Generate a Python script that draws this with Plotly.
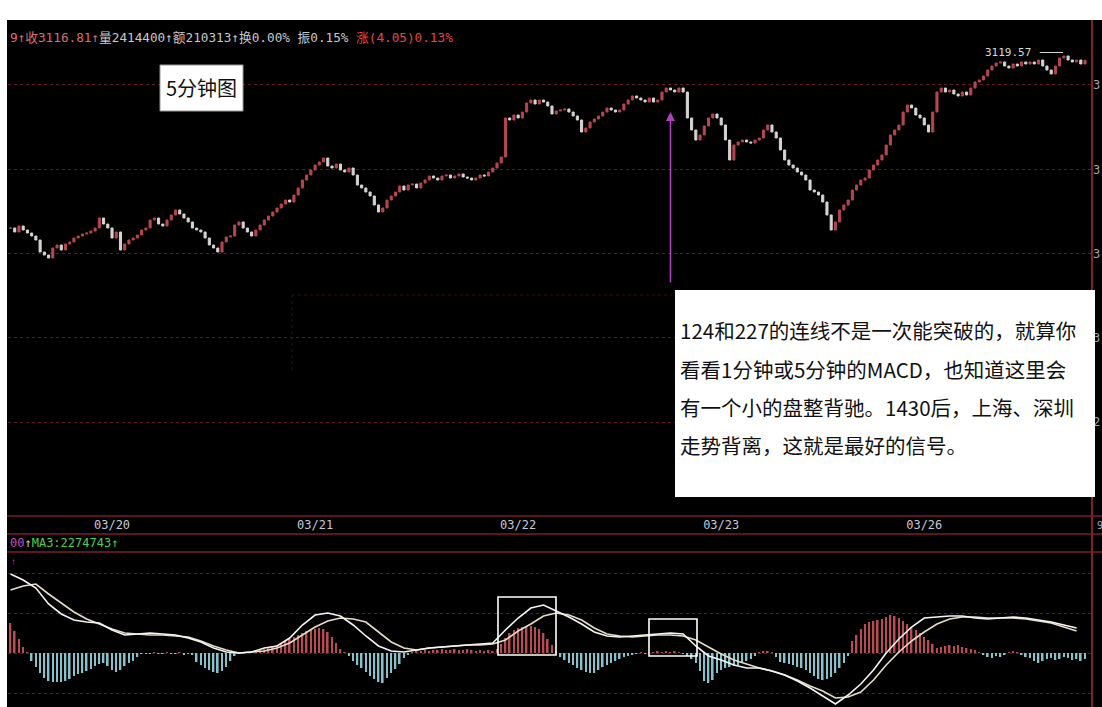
import plotly.graph_objects as go

# 5-minute closes, 03/20 .. 03/27 (48 bars per day)
closes = [
    3057.11, 3055.69, 3057.82, 3056.40, 3055.33, 3054.26, 3052.84, 3048.57, 3047.50, 3046.43,
    3049.99, 3051.06, 3049.28, 3051.42, 3052.13, 3053.55, 3054.26, 3054.98, 3055.33, 3056.04,
    3057.11, 3060.67, 3058.53, 3057.11, 3053.55, 3055.69, 3049.28, 3051.42, 3052.84, 3053.55,
    3054.62, 3056.40, 3057.11, 3059.96, 3060.67, 3058.53, 3057.82, 3059.96, 3061.74, 3063.52,
    3062.09, 3060.67, 3059.25, 3057.11, 3056.40, 3055.69, 3053.55, 3051.06, 3049.99, 3048.57,
    3052.13, 3053.91, 3054.26, 3058.18, 3059.25, 3057.11, 3055.69, 3054.26, 3056.40, 3058.18,
    3059.96, 3061.38, 3062.80, 3064.23, 3065.65, 3067.07, 3066.36, 3068.85, 3071.35, 3074.19,
    3075.97, 3077.75, 3079.53, 3080.60, 3082.02, 3079.17, 3078.46, 3079.89, 3077.75, 3077.04,
    3078.46, 3075.97, 3072.41, 3071.35, 3069.92, 3068.50, 3065.30, 3062.80, 3064.23, 3067.07,
    3068.50, 3069.92, 3072.06, 3070.63, 3072.41, 3072.77, 3071.35, 3073.12, 3074.19, 3075.62,
    3074.90, 3074.19, 3075.62, 3075.97, 3074.90, 3075.62, 3076.33, 3075.26, 3074.90, 3074.19,
    3074.90, 3075.97, 3075.62, 3077.04, 3078.46, 3080.24, 3082.38, 3096.26, 3095.54, 3097.32,
    3096.26, 3098.39, 3101.59, 3102.66, 3101.24, 3102.66, 3101.95, 3100.53, 3097.68, 3098.75,
    3099.10, 3099.46, 3098.39, 3096.97, 3095.54, 3091.27, 3092.70, 3094.83, 3095.90, 3096.97,
    3098.39, 3099.81, 3099.10, 3098.39, 3099.10, 3101.24, 3102.66, 3104.09, 3103.37, 3102.66,
    3101.95, 3103.37, 3101.95, 3102.66, 3105.51, 3106.93, 3106.22, 3105.51, 3106.93, 3105.51,
    3096.26, 3091.99, 3088.43, 3090.21, 3093.41, 3096.26, 3097.68, 3096.26, 3093.77, 3088.43,
    3081.31, 3086.65, 3087.72, 3088.43, 3087.72, 3087.36, 3088.43, 3089.14, 3091.99, 3093.77,
    3091.27, 3089.14, 3084.87, 3081.31, 3079.53, 3078.46, 3077.04, 3075.97, 3074.19, 3070.63,
    3069.92, 3068.85, 3066.36, 3061.74, 3056.40, 3059.25, 3063.52, 3065.30, 3067.07, 3070.63,
    3072.41, 3074.19, 3074.90, 3077.75, 3079.53, 3081.31, 3083.09, 3086.65, 3090.21, 3091.99,
    3093.77, 3098.39, 3100.88, 3099.81, 3097.32, 3096.26, 3093.77, 3091.27, 3098.39, 3105.51,
    3106.93, 3105.51, 3106.22, 3104.80, 3104.09, 3105.51, 3104.44, 3106.93, 3109.07, 3109.78,
    3111.20, 3113.34, 3114.76, 3115.83, 3116.19, 3114.76, 3114.05, 3115.47, 3114.76, 3116.19,
    3115.47, 3116.19, 3115.47, 3116.90, 3114.76, 3113.34, 3111.91, 3114.76, 3117.61, 3118.32,
    3116.90, 3116.19, 3116.90, 3115.47, 3116.81,
]
peak_high = 3119.57

day_ticks = [24, 72, 120, 168, 216]
day_labels = ["03/20", "03/21", "03/22", "03/23", "03/26"]

price_grid = [2988, 3018, 3048, 3078, 3108]
price_grid_text = ["2", "3", "3", "3", "3"]

# MACD: DIF / DEA read every 3 bars, histogram per bar
dif = [
    7.9, 7.3, 6.5, 4.9, 3.9, 3.3, 3.1, 3.0, 2.3, 1.8,
    1.9, 2.0, 1.9, 1.8, 1.5, 1.1, 0.5, 0.1, 0.0, 0.1,
    0.5, 0.7, 1.5, 2.8, 3.8, 4.0, 3.7, 2.8, 1.7, 0.7,
    0.2, 0.1, 0.3, 0.5, 0.6, 0.7, 0.8, 0.9, 1.0, 2.3,
    3.5, 4.5, 4.8, 4.2, 3.6, 2.9, 2.1, 1.7, 1.6, 1.7,
    1.8, 1.9, 2.0, 1.9, 0.7, -0.3, -0.7, -1.2, -1.5, -1.5,
    -1.8, -2.2, -2.8, -3.5, -4.3, -5.1, -4.2, -3.1, -1.7, 0.0,
    1.4, 2.6, 3.5, 3.6, 3.7, 3.7, 3.5, 3.4, 3.5, 3.6,
    3.5, 3.3, 3.1, 2.8, 2.5,
]
dea = [
    6.3, 6.7, 6.9, 5.9, 5.0, 4.1, 3.4, 2.9, 2.4, 2.0,
    1.9, 1.8, 1.8, 1.7, 1.6, 1.2, 0.7, 0.3, 0.0, 0.1,
    0.2, 0.5, 1.0, 1.8, 2.6, 3.2, 3.5, 3.4, 3.1, 2.1,
    1.1, 0.5, 0.3, 0.5, 0.6, 0.7, 0.8, 0.8, 0.9, 1.3,
    2.2, 2.9, 3.7, 4.0, 3.8, 3.3, 2.5, 1.9, 1.7, 1.6,
    1.7, 1.8, 1.8, 1.7, 1.3, 0.6, -0.1, -0.7, -1.1, -1.5,
    -1.8, -2.2, -2.7, -3.3, -3.8, -4.5, -4.4, -3.9, -2.7, -1.2,
    0.1, 1.2, 2.1, 2.9, 3.4, 3.6, 3.6, 3.5, 3.5, 3.5,
    3.4, 3.2, 3.0, 2.6, 2.2,
]
macd_hist = [
    3.0, 2.2, 1.4, 0.6, 0.1, -0.8, -1.4, -2.0, -2.5, -2.8,
    -2.9, -2.9, -2.9, -2.8, -2.6, -2.3, -2.1, -2.0, -1.8, -1.6,
    -1.3, -1.1, -1.0, -1.3, -1.7, -1.9, -1.7, -1.3, -1.0, -0.8,
    -0.4, -0.1, -0.1, -0.1, 0.1, -0.1, -0.1, 0.1, -0.1, -0.1,
    0.1, -0.2, -0.1, -0.2, -0.9, -1.2, -1.5, -1.7, -1.9, -2.0,
    -1.8, -1.4, -0.8, -0.3, -0.1, 0.1, 0.1, 0.2, 0.2, 0.3,
    0.4, 0.6, 0.7, 0.8, 1.0, 1.2, 1.4, 1.6, 1.8, 2.0,
    2.2, 2.3, 2.4, 2.5, 2.4, 2.1, 1.6, 1.0, 0.4, 0.1,
    -0.3, -0.8, -1.2, -1.5, -1.9, -2.3, -2.6, -2.9, -3.0, -2.5,
    -2.0, -1.6, -1.1, -0.5, -0.2, 0.1, 0.2, 0.2, 0.3, 0.2,
    0.3, 0.3, 0.4, 0.3, 0.3, 0.4, 0.3, 0.3, 0.4, 0.3,
    0.2, 0.3, 0.2, 0.3, 0.2, 0.4, 0.9, 1.5, 2.0, 2.3,
    2.5, 2.6, 2.7, 2.7, 2.6, 2.4, 2.0, 1.4, 0.8, 0.2,
    -0.4, -0.7, -1.0, -1.2, -1.5, -1.7, -1.9, -2.0, -2.0, -1.7,
    -1.4, -1.2, -1.0, -0.8, -0.6, -0.4, -0.3, -0.2, -0.1, 0.1,
    -0.1, 0.1, 0.1, 0.2, 0.1, 0.2, 0.1, 0.2, 0.1, -0.1,
    -0.3, -0.6, -1.0, -1.8, -2.8, -3.0, -2.7, -2.0, -1.7, -1.5,
    -1.4, -1.3, -1.2, -1.0, -0.8, -0.6, -0.3, 0.1, 0.2, 0.2,
    0.1, -0.4, -0.9, -1.0, -1.1, -1.2, -1.4, -1.5, -1.7, -2.0,
    -2.3, -2.6, -2.7, -2.6, -2.4, -2.0, -1.5, -1.0, -0.3, 1.2,
    1.8, 2.4, 2.9, 3.1, 3.2, 3.3, 3.4, 3.6, 3.8, 3.7,
    3.5, 3.2, 2.9, 2.6, 2.3, 2.0, 1.6, 1.3, 0.9, 0.5,
    0.6, 0.7, 0.8, 0.7, 0.8, 0.6, 0.5, 0.4, 0.3, 0.1,
    -0.2, -0.4, -0.5, -0.3, -0.4, -0.2, 0.1, 0.2, 0.1, -0.2,
    -0.4, -0.5, -0.8, -1.0, -0.8, -0.6, -0.5, -0.7, -0.6, -0.4,
    -0.5, -0.7, -0.6, -0.8, -0.6,
]
macd_grid = [-4, 0, 4, 8]

header = ('<span style="color:#d87070">9↑收3116.81↑</span>'
          '<span style="color:#c8c8c8">量2414400↑额210313↑换0.00% 振0.15% </span>'
          '<span style="color:#e04848">涨(4.05)0.13%</span>')
ma_label = ('<span style="color:#c050c0">00</span><span style="color:#c8c8c8">↑</span>'
            '<span style="color:#4cd04c">MA3:2274743↑</span>')
note_lines = [
    "124和227的连线不是一次能突破的，就算你",
    "看看1分钟或5分钟的MACD，也知道这里会",
    "有一个小的盘整背驰。1430后，上海、深圳",
    "走势背离，这就是最好的信号。",
]
note_rows = [330, 369, 407, 445]

W, H = 1102, 707
L, R = 8, 10


def xp(px):
    return (px - L) / (W - L - R)


def yp(py):
    return 1 - py / H


idx = list(range(len(closes)))
opens = [closes[0]] + closes[:-1]
highs = [max(o, c) for o, c in zip(opens, closes)]
lows = [min(o, c) for o, c in zip(opens, closes)]
macd_idx = list(range(0, 3 * len(dif), 3))
hist_colors = ["#bb4a52" if v > 0 else "#86c2cc" for v in macd_hist]

fig = go.Figure()
fig.add_trace(go.Candlestick(
    x=idx, open=opens, high=highs, low=lows, close=closes,
    increasing=dict(line=dict(color="#b8464e", width=1), fillcolor="#b8464e"),
    decreasing=dict(line=dict(color="#d4d4d4", width=1), fillcolor="#d4d4d4"),
    whiskerwidth=0, hoverinfo="skip", showlegend=False, xaxis="x", yaxis="y"))
fig.add_trace(go.Bar(x=idx, y=macd_hist, marker=dict(color=hist_colors, line=dict(width=0)),
                     width=0.38, hoverinfo="skip", showlegend=False, xaxis="x2", yaxis="y2"))
fig.add_trace(go.Scatter(x=macd_idx, y=dea, mode="lines", line=dict(color="#e4dcc4", width=1.6),
                         hoverinfo="skip", showlegend=False, xaxis="x2", yaxis="y2"))
fig.add_trace(go.Scatter(x=macd_idx, y=dif, mode="lines", line=dict(color="#f4f4f4", width=1.6),
                         hoverinfo="skip", showlegend=False, xaxis="x2", yaxis="y2"))

xrange = [-0.59, 255.65]
grid_col = "#5e1c22"
fig.update_layout(
    width=W, height=H, margin=dict(l=L, r=R, t=0, b=0),
    paper_bgcolor="black", plot_bgcolor="black", showlegend=False,
    xaxis=dict(domain=[0, 1], range=xrange, anchor="y", tickvals=day_ticks, ticktext=day_labels,
               ticks="", showgrid=False, zeroline=False, showline=False,
               rangeslider=dict(visible=False),
               tickfont=dict(family="DejaVu Sans Mono", size=12, color="#c4c8d8")),
    yaxis=dict(domain=[yp(516), yp(25)], range=[2954.62, 3129.35], side="right",
               tickvals=price_grid, ticktext=price_grid_text, ticks="",
               showgrid=True, gridcolor=grid_col, griddash="dot", gridwidth=1, zeroline=False,
               tickfont=dict(family="DejaVu Sans Mono", size=12, color="#a8a8a8")),
    xaxis2=dict(domain=[0, 1], range=xrange, anchor="y2", showticklabels=False,
                showgrid=False, zeroline=False, ticks=""),
    yaxis2=dict(domain=[0, yp(553)], range=[-5.4, 10.0], side="right", tickvals=macd_grid,
                showticklabels=False, ticks="", showgrid=True, gridcolor=grid_col,
                griddash="dot", gridwidth=1, zeroline=False),
)

red = "#7c1e2a"
shapes = [
    # white border strips of the screenshot
    dict(type="rect", xref="paper", yref="paper", x0=xp(0), x1=xp(W), y0=yp(20), y1=yp(0),
         fillcolor="white", line=dict(width=0), layer="above"),
    dict(type="rect", xref="paper", yref="paper", x0=xp(0), x1=xp(7), y0=yp(H), y1=yp(0),
         fillcolor="white", line=dict(width=0), layer="above"),
    # panel separators
    dict(type="line", xref="paper", yref="paper", x0=xp(7), x1=xp(W), y0=yp(516), y1=yp(516),
         line=dict(color=red, width=1.5)),
    dict(type="line", xref="paper", yref="paper", x0=xp(7), x1=xp(W), y0=yp(534), y1=yp(534),
         line=dict(color=red, width=1.5)),
    dict(type="line", xref="paper", yref="paper", x0=xp(7), x1=xp(W), y0=yp(552), y1=yp(552),
         line=dict(color=red, width=1.5)),
    dict(type="line", xref="paper", yref="paper", x0=1, x1=1, y0=yp(H), y1=yp(20),
         line=dict(color="#84202a", width=2)),
    # faint leftover dotted lines
    dict(type="line", xref="paper", yref="paper", x0=xp(292), x1=xp(672), y0=yp(295), y1=yp(295),
         line=dict(color="#2e1014", width=1, dash="dot")),
    dict(type="line", xref="paper", yref="paper", x0=xp(292), x1=xp(292), y0=yp(370), y1=yp(295),
         line=dict(color="#2e1014", width=1, dash="dot")),
    # peak marker
    dict(type="line", xref="x", yref="y", x0=243.3, x1=248.8, y0=peak_high, y1=peak_high,
         line=dict(color="#d8d8d8", width=1)),
    # boxes on MACD
    dict(type="rect", xref="paper", yref="paper", x0=xp(498), x1=xp(556), y0=yp(655), y1=yp(597),
         line=dict(color="white", width=1.6), fillcolor="rgba(0,0,0,0)"),
    dict(type="rect", xref="paper", yref="paper", x0=xp(649), x1=xp(697), y0=yp(656), y1=yp(619),
         line=dict(color="white", width=1.6), fillcolor="rgba(0,0,0,0)"),
    # label boxes
    dict(type="rect", xref="paper", yref="paper", x0=xp(160), x1=xp(243), y0=yp(111), y1=yp(65),
         fillcolor="white", line=dict(color="#9a9a9a", width=1), layer="above"),
    dict(type="rect", xref="paper", yref="paper", x0=xp(675), x1=xp(1095), y0=yp(497), y1=yp(290),
         fillcolor="white", line=dict(width=0), layer="above"),
]
fig.update_layout(shapes=shapes)

ann = [
    dict(xref="paper", yref="paper", x=xp(8), y=yp(37), text=header, showarrow=False,
         xanchor="left", yanchor="middle", font=dict(family="DejaVu Sans Mono, Noto Sans CJK SC", size=12.7)),
    dict(xref="paper", yref="paper", x=xp(8), y=yp(543), text=ma_label, showarrow=False,
         xanchor="left", yanchor="middle", font=dict(family="DejaVu Sans Mono", size=12)),
    dict(xref="paper", yref="paper", x=xp(13), y=yp(561), text="↑", showarrow=False,
         xanchor="center", yanchor="middle", font=dict(size=10, color="#c050c0")),
    dict(xref="paper", yref="paper", x=xp(1095), y=yp(525), text="9", showarrow=False,
         xanchor="left", yanchor="middle", font=dict(family="DejaVu Sans Mono", size=10, color="#a8a8a8")),
    dict(xref="paper", yref="paper", x=xp(201.5), y=yp(88), text="5分钟图", showarrow=False,
         xanchor="center", yanchor="middle", font=dict(family="Noto Sans CJK SC", size=20, color="#111111")),
    dict(xref="x", yref="y", x=243, y=peak_high, text="3119.57", showarrow=False, xshift=-5,
         xanchor="right", yanchor="middle", font=dict(family="DejaVu Sans Mono", size=11, color="#d8d8d8")),
    dict(xref="x", yref="y", x=156, y=3098.4, text="", showarrow=True, ax=0, ay=172,
         arrowcolor="#b040c0", arrowwidth=1.5, arrowhead=2, arrowsize=1.2),
]
for line, row in zip(note_lines, note_rows):
    ann.append(dict(xref="paper", yref="paper", x=xp(678), y=yp(row), text=line,
                    showarrow=False, xanchor="left", yanchor="middle",
                    font=dict(family="Noto Sans CJK SC", size=20.5, color="#111111")))
fig.update_layout(annotations=ann)

fig.write_html("out.html", post_script="document.body.style.margin='0';",
               config={"displayModeBar": False})
